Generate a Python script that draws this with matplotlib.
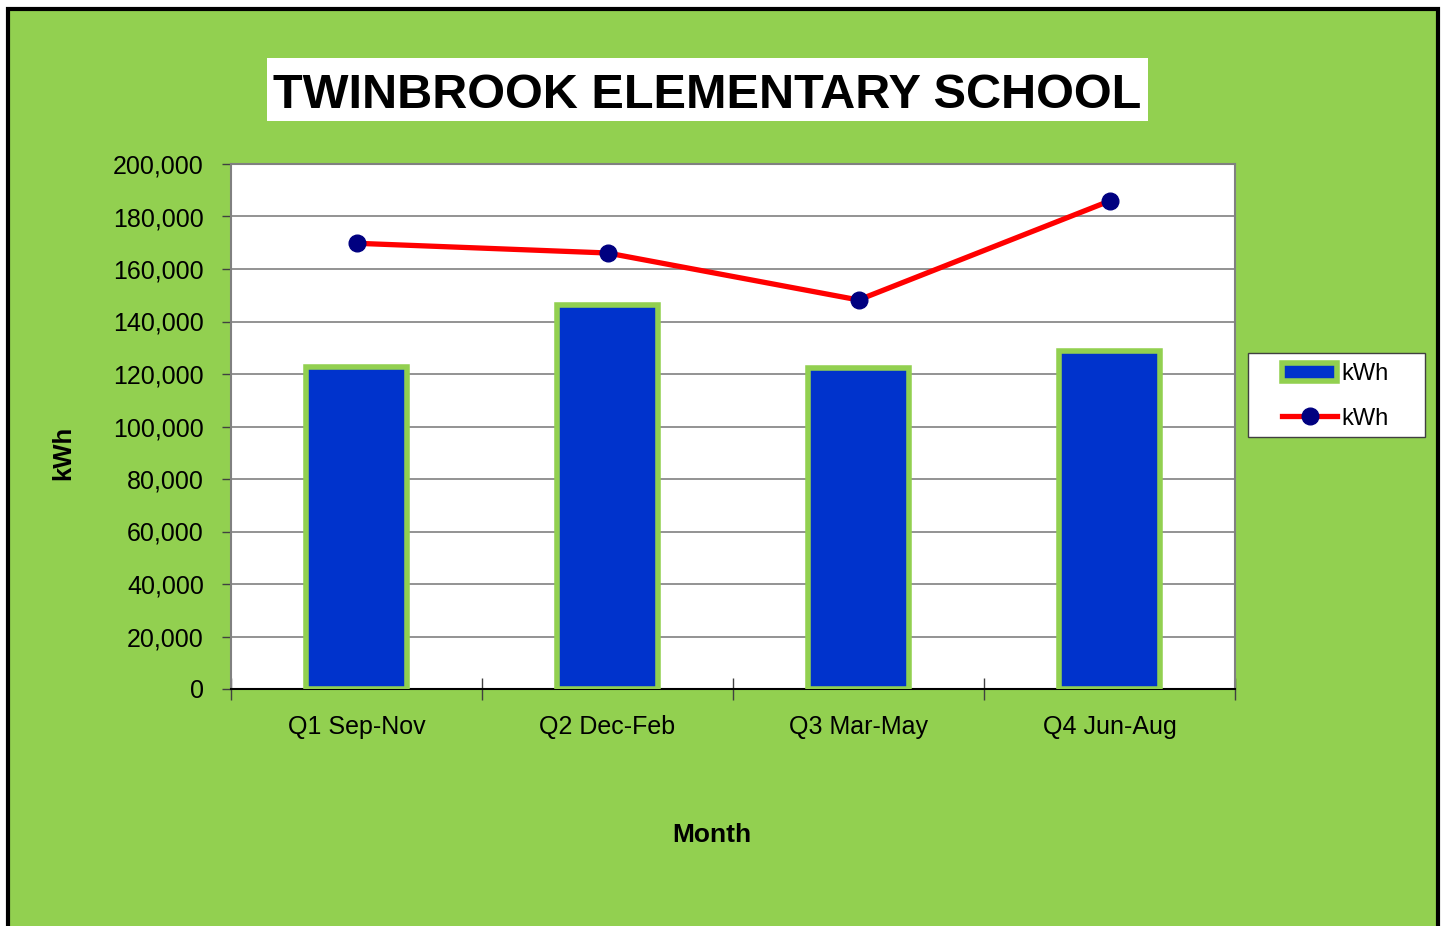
import matplotlib
matplotlib.use("Agg")
import matplotlib.pyplot as plt
from matplotlib.patches import Rectangle
from matplotlib.ticker import FuncFormatter, FixedLocator
import numpy as np

categories = ["Q1 Sep-Nov", "Q2 Dec-Feb", "Q3 Mar-May", "Q4 Jun-Aug"]
bar_kwh = [122700, 146400, 122300, 128600]
line_kwh = [169800, 166100, 148200, 185900]
yticks = [0, 20000, 40000, 60000, 80000, 100000, 120000, 140000, 160000, 180000, 200000]

narrow = ["Liberation Sans Narrow", "Liberation Sans", "DejaVu Sans"]
regular = ["Liberation Sans", "DejaVu Sans"]

W, H = 1442, 926
fig = plt.figure(figsize=(W / 100, H / 100), dpi=100)
fig.patch.set_facecolor("white")

green = "#92D050"
fig.patches.append(Rectangle((8 / W, -0.05), (1438 - 8) / W, (H - 9) / H + 0.05,
                             transform=fig.transFigure, facecolor=green,
                             edgecolor="black", linewidth=3, zorder=-10))

ax = fig.add_axes([231 / W, 1 - 689 / H, (1235 - 231) / W, (689 - 164) / H])
ax.set_zorder(1)
ax.set_facecolor("white")
x = np.arange(len(categories))
bars = ax.bar(x, bar_kwh, width=0.4, color="#0033CC", edgecolor=green, linewidth=4,
              zorder=3, label="kWh")
line, = ax.plot(x, line_kwh, color="#FF0000", linewidth=3.8, marker="o", markersize=12,
                markerfacecolor="#000080", markeredgecolor="#000080", zorder=4, label="kWh")

ax.set_xlim(-0.5, len(categories) - 0.5)
ax.set_ylim(0, 200000)
ax.yaxis.set_major_locator(FixedLocator(yticks))
ax.yaxis.set_major_formatter(FuncFormatter(lambda v, p: f"{int(v):,}"))
ax.grid(axis="y", color="#808080", linewidth=1.2, zorder=1)
ax.set_axisbelow(True)

ax.set_xticks(x)
ax.set_xticklabels(categories)
ax.set_xticks(np.arange(-0.5, len(categories)), minor=True)
ax.tick_params(axis="x", which="major", length=0, pad=18.5)
ax.tick_params(axis="x", which="minor", direction="inout", length=16, width=1, color="#404040")
ax.tick_params(axis="y", direction="out", length=6.5, width=1, color="#404040", pad=13)
for lab in ax.get_xticklabels() + ax.get_yticklabels():
    lab.set_fontfamily(narrow)
    lab.set_fontsize(18)

for side in ["left", "top", "right"]:
    ax.spines[side].set_color("#808080")
    ax.spines[side].set_linewidth(1.5)
ax.spines["bottom"].set_color("black")
ax.spines["bottom"].set_linewidth(1.5)

fig.text(63 / W, 1 - 453 / H, "kWh", rotation=90, ha="center", va="center",
         fontsize=18.5, fontweight="bold", family=regular)
fig.text(712 / W, 1 - 835 / H, "Month", ha="center", va="center",
         fontsize=19, fontweight="bold", family=regular)

fig.patches.append(Rectangle((267 / W, 1 - 121 / H), (1148 - 267) / W, 63 / H,
                             transform=fig.transFigure, facecolor="white",
                             edgecolor="none", zorder=-5))
fig.text(707 / W, 1 - 91 / H, "TWINBROOK ELEMENTARY SCHOOL", ha="center", va="center_baseline",
         fontsize=35, fontweight="bold", family=regular)

# legend box drawn manually
fig.patches.append(Rectangle((1248 / W, 1 - 437 / H), (1425 - 1248) / W, (437 - 353) / H,
                             transform=fig.transFigure, facecolor="white",
                             edgecolor="#404040", linewidth=1, zorder=-5))
leg = fig.legend([bars, line], ["kWh", "kWh"], loc="upper left",
                 bbox_to_anchor=(1282 / W, 1 - 363 / H),
                 prop={"family": regular, "size": 17}, frameon=False,
                 handlelength=2.35, handletextpad=0.15, handleheight=0.8,
                 labelspacing=0.95, borderpad=0, borderaxespad=0)

fig.savefig("out.png", dpi=100, facecolor=fig.get_facecolor())
